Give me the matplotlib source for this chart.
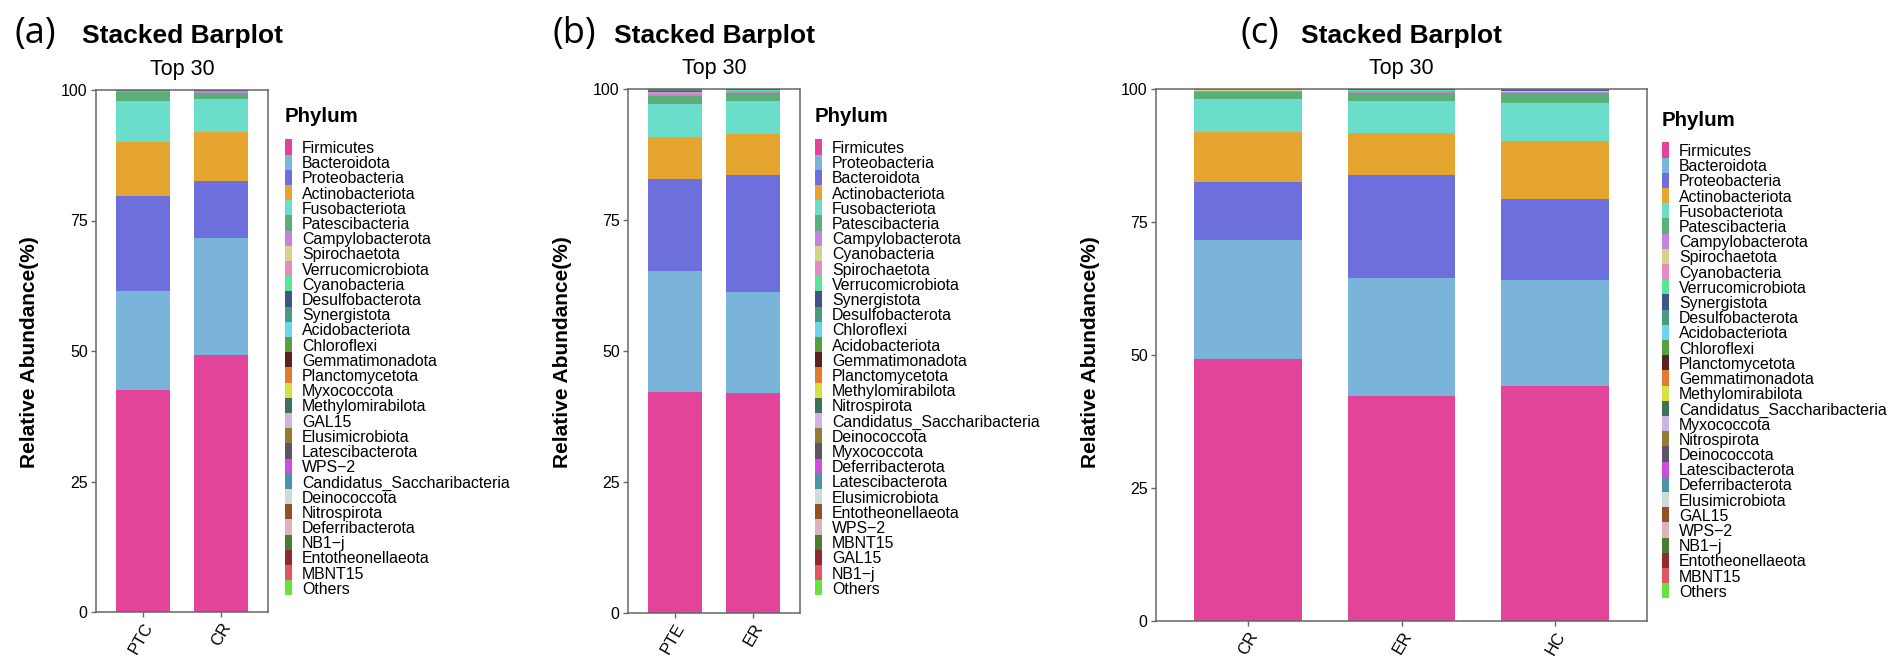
import numpy as np
import matplotlib.pyplot as plt
from matplotlib.patches import Rectangle

plt.rcParams['font.family'] = ['Liberation Sans', 'DejaVu Sans']

# palette is applied by legend position, the same in all three panels
colors = ["#E2449A", "#7AB4DA", "#6C6FDC", "#E5A52E", "#6ADDCB", "#5CAE78",
          "#C583DD", "#D5D28A", "#E38DBF", "#5BE39A", "#3E5587", "#4A9985",
          "#6CD5EE", "#58A03D", "#5B2222", "#E27A32", "#D9E13F", "#3C735A",
          "#CEB4E5", "#947C36", "#5D5563", "#CC4ED9", "#4D93A8", "#CDDCD6",
          "#91522A", "#DDB2B9", "#4C7C34", "#8E2A30", "#E25563", "#6BE140"]

# ---- panel (a) ----
a_samples = ["PTC", "CR"]
a_phyla = ["Firmicutes", "Bacteroidota", "Proteobacteria", "Actinobacteriota",
           "Fusobacteriota", "Patescibacteria", "Campylobacterota", "Spirochaetota",
           "Verrucomicrobiota", "Cyanobacteria", "Desulfobacterota", "Synergistota",
           "Acidobacteriota", "Chloroflexi", "Gemmatimonadota", "Planctomycetota",
           "Myxococcota", "Methylomirabilota", "GAL15", "Elusimicrobiota",
           "Latescibacterota", "WPS\u22122", "Candidatus_Saccharibacteria", "Deinococcota",
           "Nitrospirota", "Deferribacterota", "NB1\u2212j", "Entotheonellaeota",
           "MBNT15", "Others"]
a_ptc = [42.5, 18.9, 18.2, 10.4, 7.8, 1.8, 0.15, 0.05, 0.04, 0.03, 0.03, 0.02,
         0.01, 0.01, 0.01, 0.01, 0.01, 0.005, 0.005, 0.005, 0.005, 0.004, 0.004,
         0.003, 0.003, 0.003, 0.002, 0.002, 0.002, 0.03]
a_cr = [49.2, 22.4, 10.9, 9.5, 6.3, 1.2, 0.3, 0.04, 0.04, 0.02, 0.03, 0.01,
        0.01, 0.01, 0.005, 0.005, 0.005, 0.005, 0.003, 0.003, 0.003, 0.003, 0.003,
        0.002, 0.002, 0.002, 0.002, 0.002, 0.002, 0.02]

# ---- panel (b) ----
b_samples = ["PTE", "ER"]
b_phyla = ["Firmicutes", "Proteobacteria", "Bacteroidota", "Actinobacteriota",
           "Fusobacteriota", "Patescibacteria", "Campylobacterota", "Cyanobacteria",
           "Spirochaetota", "Verrucomicrobiota", "Synergistota", "Desulfobacterota",
           "Chloroflexi", "Acidobacteriota", "Gemmatimonadota", "Planctomycetota",
           "Methylomirabilota", "Nitrospirota", "Candidatus_Saccharibacteria",
           "Deinococcota", "Myxococcota", "Deferribacterota", "Latescibacterota",
           "Elusimicrobiota", "Entotheonellaeota", "WPS\u22122", "MBNT15", "GAL15",
           "NB1\u2212j", "Others"]
b_pte = [42.2, 23.1, 17.5, 8.0, 6.3, 1.6, 0.3, 0.1, 0.25, 0.08, 0.15, 0.15,
         0.03, 0.03, 0.02, 0.02, 0.02, 0.02, 0.02, 0.01, 0.01, 0.01, 0.01, 0.01,
         0.01, 0.01, 0.005, 0.005, 0.005, 0.03]
b_er = [42.0, 19.3, 22.3, 7.9, 6.2, 1.5, 0.35, 0.05, 0.08, 0.06, 0.06, 0.06,
        0.02, 0.02, 0.01, 0.01, 0.01, 0.01, 0.01, 0.005, 0.005, 0.005, 0.005,
        0.005, 0.005, 0.005, 0.003, 0.003, 0.003, 0.02]

# ---- panel (c) ----
c_samples = ["CR", "ER", "HC"]
c_phyla = ["Firmicutes", "Bacteroidota", "Proteobacteria", "Actinobacteriota",
           "Fusobacteriota", "Patescibacteria", "Campylobacterota", "Spirochaetota",
           "Cyanobacteria", "Verrucomicrobiota", "Synergistota", "Desulfobacterota",
           "Acidobacteriota", "Chloroflexi", "Planctomycetota", "Gemmatimonadota",
           "Methylomirabilota", "Candidatus_Saccharibacteria", "Myxococcota",
           "Nitrospirota", "Deinococcota", "Latescibacterota", "Deferribacterota",
           "Elusimicrobiota", "GAL15", "WPS\u22122", "NB1\u2212j", "Entotheonellaeota",
           "MBNT15", "Others"]
c_cr = [49.3, 22.4, 10.8, 9.5, 6.1, 1.3, 0.3, 0.04, 0.03, 0.04, 0.03, 0.03,
        0.01, 0.01, 0.01, 0.01, 0.005, 0.005, 0.005, 0.005, 0.003, 0.003, 0.003,
        0.003, 0.002, 0.002, 0.002, 0.002, 0.002, 0.02]
c_er = [42.2, 22.3, 19.3, 7.9, 6.1, 1.4, 0.35, 0.08, 0.05, 0.06, 0.06, 0.06,
        0.02, 0.02, 0.01, 0.01, 0.01, 0.01, 0.005, 0.005, 0.005, 0.005, 0.005,
        0.005, 0.003, 0.003, 0.003, 0.003, 0.003, 0.02]
c_hc = [44.1, 20.0, 15.2, 11.0, 7.0, 1.9, 0.3, 0.05, 0.1, 0.05, 0.05, 0.1,
        0.02, 0.02, 0.01, 0.01, 0.01, 0.01, 0.005, 0.005, 0.005, 0.005, 0.005,
        0.005, 0.003, 0.003, 0.003, 0.003, 0.003, 0.02]

W, H = 1902, 668
fig = plt.figure(figsize=(W / 100, H / 100), dpi=100)


def add_axes_px(left, top, right, bottom):
    return fig.add_axes([left / W, 1 - bottom / H, (right - left) / W, (bottom - top) / H])


def draw_panel(ax, samples, phyla, values):
    vals = np.array(values)
    x = np.arange(len(samples))
    bottom = np.zeros(len(samples))
    for i, name in enumerate(phyla):
        ax.bar(x, vals[:, i], 0.7, bottom=bottom, color=colors[i], linewidth=0)
        bottom += vals[:, i]
    ax.set_xlim(-0.6, len(samples) - 0.4)
    ax.set_ylim(0, 100)
    ax.set_yticks([0, 25, 50, 75, 100])
    ax.set_xticks(x)
    ax.set_xticklabels(samples, rotation=60, ha="right", va="top",
                       rotation_mode="anchor", fontsize=12)
    ax.tick_params(axis="y", labelsize=11.5)
    ax.tick_params(length=3.5, width=1, color="#666666", pad=2.5, labelcolor="black")
    for s in ax.spines.values():
        s.set_color("#666666")
        s.set_linewidth(1.1)
    ax.set_title("Top 30", fontsize=15.5, pad=11)


def draw_legend(x0, y_title, y_first, phyla):
    fig.text(x0 / W, 1 - y_title / H, "Phylum", fontsize=14.8, weight="bold",
             ha="left", va="baseline")
    step = 15.2
    for i, name in enumerate(phyla):
        yc = y_first + i * step
        fig.add_artist(Rectangle((x0 / W, 1 - (yc + step / 2) / H), 7 / W, step / H,
                                 color=colors[i], transform=fig.transFigure, lw=0))
        fig.text((x0 + 17) / W, 1 - yc / H, name, fontsize=11.4,
                 ha="left", va="center_baseline")


def draw_heading(tag, tag_x, ax_left, ax_right, ylabel_x):
    fig.text(tag_x / W, 1 - 34 / H, tag, family="Open Sans", fontsize=26,
             ha="left", va="center")
    fig.text((ax_left + ax_right) / 2 / W, 1 - 42.7 / H, "Stacked Barplot",
             fontsize=19, weight="bold", ha="center", va="baseline")
    fig.text(ylabel_x / W, 0.5 * (2 - (89 + 615) / H), "Relative Abundance(%)",
             fontsize=15, weight="bold", rotation=90, ha="center", va="center")


ax_a = add_axes_px(96, 90, 268, 612)
draw_panel(ax_a, a_samples, a_phyla, [a_ptc, a_cr])
draw_legend(285, 121.7, 147, a_phyla)
draw_heading("(a)", 14, 96, 268, 30)

ax_b = add_axes_px(628, 89, 800, 613)
draw_panel(ax_b, b_samples, b_phyla, [b_pte, b_er])
draw_legend(815, 121.7, 147, b_phyla)
draw_heading("(b)", 553, 628, 800, 562)

ax_c = add_axes_px(1156, 89, 1647, 621)
draw_panel(ax_c, c_samples, c_phyla, [c_cr, c_er, c_hc])
draw_legend(1662, 125.7, 150, c_phyla)
draw_heading("(c)", 1240, 1156, 1647, 1090)

fig.savefig("out.png", dpi=100)
